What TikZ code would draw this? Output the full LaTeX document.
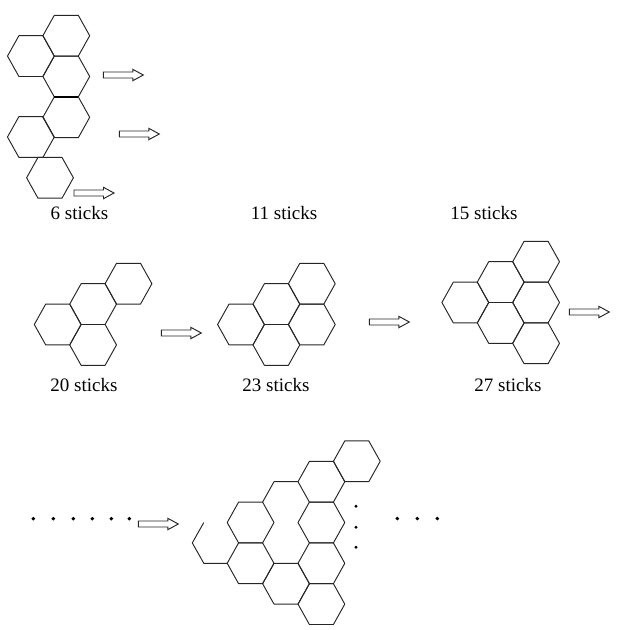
\documentclass[tikz,border=0pt]{standalone}
\usepackage{fontspec}
\setmainfont{Liberation Serif}
\tikzset{
  stroke/.style={draw=black!85,line width=0.95pt,line join=round},
  label/.style={font=\fontsize{19}{20}\selectfont,text=black,inner sep=0pt,anchor=base},
  blockarrow/.style={draw=black!85,line width=0.95pt,fill=white,line join=miter},
  bigdot/.style={fill=black},
}
\newcommand{\hexa}[2]{\draw[stroke] (#1-12,#2-20.4)--(#1+12,#2-20.4)--(#1+23.4,#2)--(#1+12,#2+20.4)--(#1-12,#2+20.4)--(#1-23.4,#2)--cycle;}
\newcommand{\blockarr}[2]{\draw[blockarrow] (#1,#2-3)--(#1+29.5,#2-3)--(#1+29.5,#2-5.7)--(#1+40,#2)--(#1+29.5,#2+5.7)--(#1+29.5,#2+3)--(#1,#2+3)--cycle;}
\begin{document}
\begin{tikzpicture}[x=1pt,y=-1pt]
\useasboundingbox (0,0) rectangle (622,630);
% group 1
\hexa{66.3}{35.7}
\hexa{30.9}{56.1}
\hexa{66.3}{76.5}
\hexa{66.3}{117.3}
\hexa{30.9}{137}
\hexa{50}{177.8}
\draw[draw=black,line width=1.9pt] (54.3,96.9)--(78.3,96.9);
\blockarr{103.3}{75}
\blockarr{119.3}{134}
\blockarr{74}{193}
\node[label] (l6) at (79.5,219) {6 sticks};
\node[label] (l11) at (284,219) {11 sticks};
\node[label] (l15) at (484,219) {15 sticks};
% group 2
\hexa{128.5}{283.7}
\hexa{93.1}{304.1}
\hexa{57.7}{324.5}
\hexa{93.1}{344.9}
\blockarr{161.3}{333}
\node[label] (l20) at (84,391) {20 sticks};
% group 3
\hexa{311.8}{283.7}
\hexa{276.4}{304.1}
\hexa{241}{324.5}
\hexa{276.4}{344.9}
\hexa{311.8}{324.5}
\blockarr{369.3}{322}
\node[label] (l23) at (276,391) {23 sticks};
% group 4
\hexa{536.1}{261.7}
\hexa{500.7}{282.1}
\hexa{465.3}{302.5}
\hexa{536.1}{302.5}
\hexa{500.7}{322.9}
\hexa{536.1}{343.3}
\blockarr{569.3}{312}
\node[label] (l27) at (508,391) {27 sticks};
% group 5
\hexa{356.8}{461.3}
\hexa{321.4}{481.7}
\draw[stroke] (262.6,502.1)--(274,481.7)--(298,481.7);
\hexa{250.6}{522.5}
\hexa{321.4}{522.5}
\hexa{250.6}{563.3}
\hexa{321.4}{563.3}
\hexa{286}{583.7}
\hexa{321.4}{604.1}
\draw[stroke] (203.8,522.5)--(192.3,542.9)--(203.8,563.3)--(227.2,563.3);
\blockarr{138.3}{524}
\foreach \x in {33.3,53.3,73.3,92.3,111.3,129.3} \fill[bigdot] (\x,518.7) circle (1.95pt);
\foreach \y in {506.3,527.3,547.3} \fill[bigdot] (356,\y) circle (1.6pt);
\foreach \x in {397.3,417.3,437.3} \fill[bigdot] (\x,518.5) circle (1.95pt);
\end{tikzpicture}
\end{document}
